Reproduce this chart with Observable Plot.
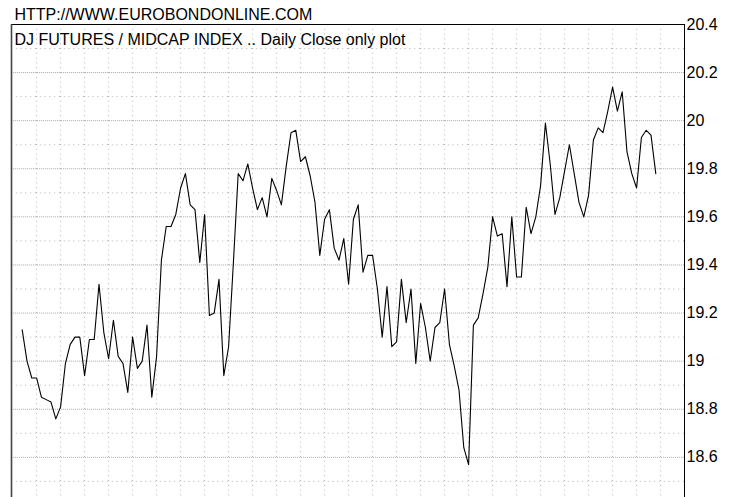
<!DOCTYPE html>
<html>
<head>
<meta charset="utf-8">
<script src="https://cdn.jsdelivr.net/npm/d3@7"></script>
<script src="https://cdn.jsdelivr.net/npm/@observablehq/plot@0.6"></script>
<style>
  html, body { margin: 0; padding: 0; background: #fff; }
  #chart { width: 737px; height: 497px; overflow: hidden; }
</style>
</head>
<body>
<div id="chart"></div>
<script>
// Header texts
const siteText = "HTTP://WWW.EUROBONDONLINE.COM";
const titleText = "DJ FUTURES / MIDCAP INDEX .. Daily Close only plot";

// Daily closes
const closes = [
  19.13, 19.00, 18.93, 18.93, 18.85, 18.84, 18.83, 18.76, 18.81, 18.99,
  19.07, 19.10, 19.10, 18.94, 19.09, 19.09, 19.32, 19.12, 19.01, 19.17,
  19.02, 18.99, 18.87, 19.10, 18.97, 19.00, 19.15, 18.85, 19.02, 19.42,
  19.56, 19.56, 19.61, 19.72, 19.78, 19.65, 19.63, 19.41, 19.61, 19.19,
  19.20, 19.34, 18.94, 19.06, 19.41, 19.78, 19.75, 19.82,
  19.72, 19.63, 19.68, 19.60, 19.76, 19.71, 19.65, 19.81, 19.95, 19.96,
  19.83, 19.85, 19.77, 19.66, 19.44, 19.59, 19.63, 19.47, 19.42, 19.51,
  19.32, 19.59, 19.65, 19.37, 19.44, 19.44, 19.30, 19.10, 19.31, 19.06,
  19.08, 19.34, 19.16, 19.30, 18.99, 19.24, 19.14, 19.00, 19.14, 19.16,
  19.30, 19.07, 18.98, 18.88,
  18.64, 18.57, 19.15, 19.18, 19.28, 19.39, 19.60, 19.52, 19.53, 19.31,
  19.60, 19.35, 19.35, 19.64, 19.53, 19.60, 19.73, 19.99, 19.82, 19.61,
  19.68, 19.79, 19.90, 19.78, 19.66, 19.60, 19.69, 19.92, 19.97, 19.95,
  20.04, 20.14, 20.04, 20.12, 19.87, 19.78, 19.72, 19.93, 19.96, 19.94,
  19.78
];

// Axis ticks and grid positions
const yTicks = [18.6, 18.8, 19, 19.2, 19.4, 19.6, 19.8, 20, 20.2, 20.4];
const majorGridY = [18.6, 18.8, 19, 19.2, 19.4, 19.6, 19.8, 20, 20.2];
const minorGridY = [18.5, 18.7, 18.9, 19.1, 19.3, 19.5, 19.7, 19.9, 20.1, 20.3];
const gridX = [3, 8, 13, 18, 23, 28, 33, 38, 43, 48, 53, 58, 63, 68, 73, 78, 83, 88, 93, 98, 103, 108, 113, 118, 123, 128, 133];
const xDomain = [-2.23, 137.98];
const yDomain = [18.433, 20.4];

const data = closes.map((c, i) => ({day: i, close: c}));

const chart = Plot.plot({
  width: 737,
  height: 497,
  marginTop: 24,
  marginBottom: 0,
  marginLeft: 11,
  marginRight: 53,
  x: {domain: xDomain, axis: null},
  y: {domain: yDomain, axis: null},
  style: {
    fontFamily: "'Liberation Sans', Arial, sans-serif",
    fontSize: "16px",
    background: "#fff",
    color: "#000",
    overflow: "visible"
  },
  marks: [
    Plot.ruleY(minorGridY, {stroke: "#b4b4b4", strokeDasharray: "1,3.8"}),
    Plot.ruleY(majorGridY, {stroke: "#b4b4b4", strokeDasharray: "1.2,0.8"}),
    Plot.ruleX(gridX, {stroke: "#b4b4b4", strokeDasharray: "1,3.8"}),
    Plot.line(data, {x: "day", y: "close", stroke: "#000", strokeWidth: 1.1}),
    Plot.ruleY([yDomain[1]], {stroke: "#000", strokeWidth: 1}),
    Plot.ruleX([xDomain[0]], {stroke: "#444", strokeWidth: 1.6}),
    Plot.ruleX([xDomain[1]], {stroke: "#000", strokeWidth: 1}),
    Plot.axisY(yTicks, {
      anchor: "right",
      tickSize: 0,
      tickPadding: 2,
      tickFormat: d => String(d),
      fontSize: 16,
      fill: "#000",
      label: null
    }),
    Plot.text([siteText], {
      frameAnchor: "top-left",
      text: d => d,
      textAnchor: "start",
      lineAnchor: "bottom",
      dx: 3,
      dy: -5,
      fontSize: 16,
      fill: "#000"
    }),
    Plot.text([titleText], {
      frameAnchor: "top-left",
      text: d => d,
      textAnchor: "start",
      lineAnchor: "bottom",
      dx: 3,
      dy: 20,
      fontSize: 16,
      fill: "#000"
    })
  ]
});

document.getElementById("chart").appendChild(chart);
</script>
</body>
</html>
